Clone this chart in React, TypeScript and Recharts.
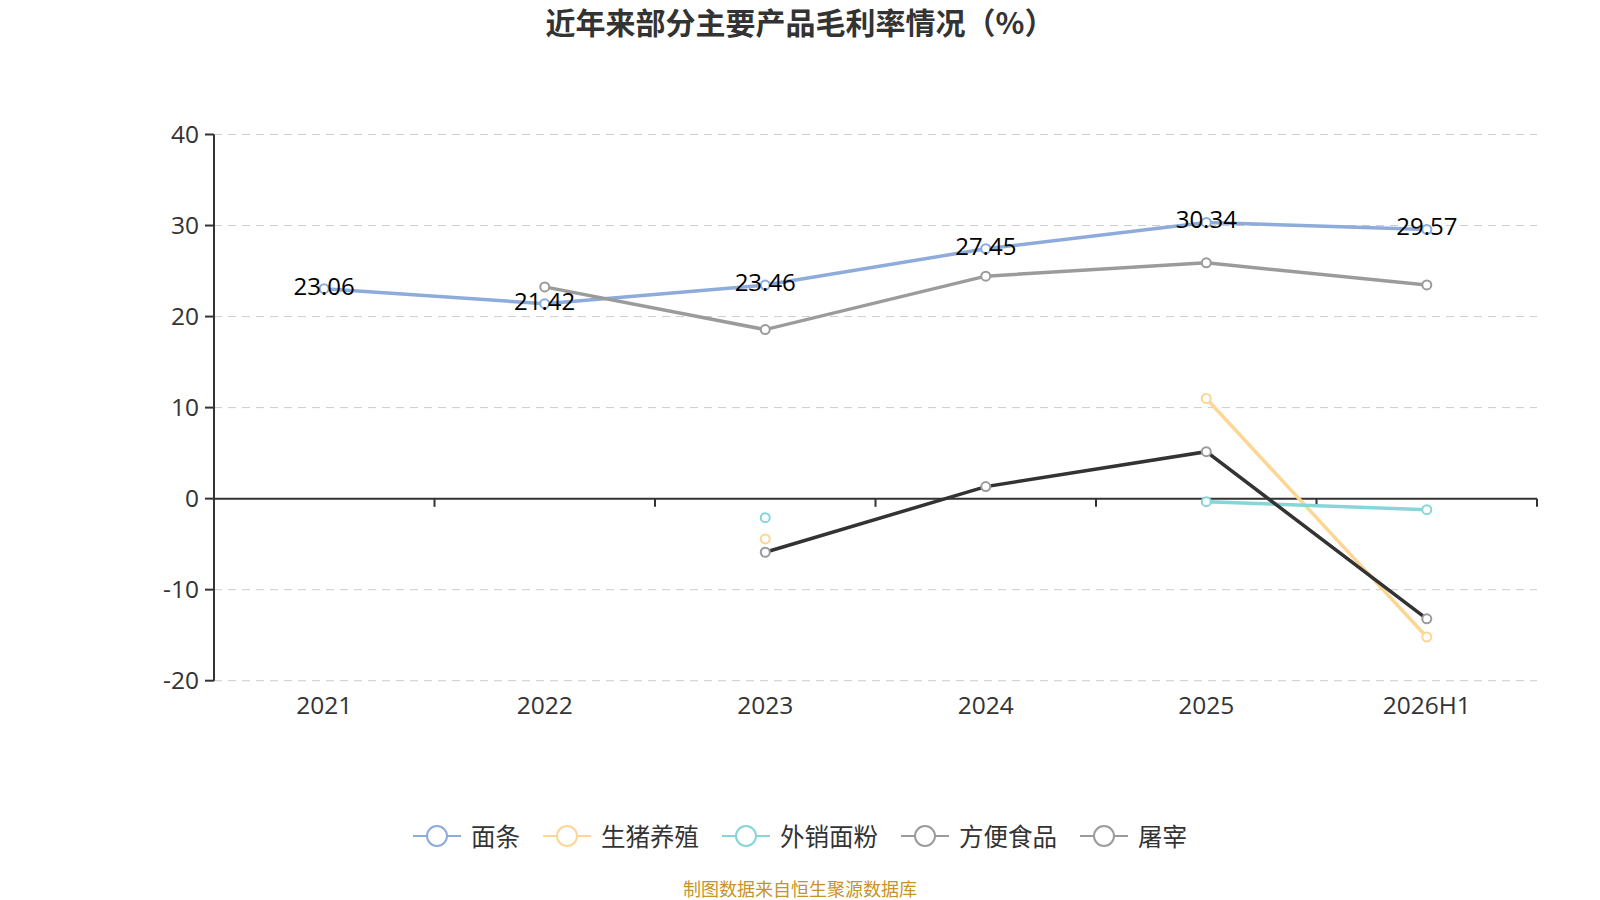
import React from 'react';
import {
  LineChart,
  Line,
  XAxis,
  YAxis,
  CartesianGrid,
  ReferenceLine,
} from 'recharts';

const years = ['2021', '2022', '2023', '2024', '2025', '2026H1'];
const noodles = [23.06, 21.42, 23.46, 27.45, 30.34, 29.57];
const pigFarming = [null, null, -4.43, null, 11.0, -15.2];
const flourSales = [null, null, -2.09, null, -0.33, -1.21];
const instantFood = [null, 23.26, 18.57, 24.44, 25.9, 23.48];
const slaughter = [null, null, -5.89, 1.32, 5.16, -13.2];
const yTicks = [-20, -10, 0, 10, 20, 30, 40];
const bandEdges = [1, 2, 3, 4, 5, 6];

const CJK = '"Noto Sans CJK SC", "Noto Sans", sans-serif';
const NUM = '"Open Sans", "Noto Sans CJK SC", sans-serif';

const series = [
  { key: 'noodles', name: '面条', color: '#8dabdb', line: '#8dabdb' },
  { key: 'pig', name: '生猪养殖', color: '#fdd696', line: '#fdd696' },
  { key: 'flour', name: '外销面粉', color: '#86d5d8', line: '#86d5d8' },
  { key: 'instant', name: '方便食品', color: '#9b9b9b', line: '#9b9b9b' },
  { key: 'slaughter', name: '屠宰', color: '#9b9b9b', line: '#333333' },
];

const data = years.map((year, i) => ({
  year,
  noodles: noodles[i],
  pig: pigFarming[i],
  flour: flourSales[i],
  instant: instantFood[i],
  slaughter: slaughter[i],
}));

const dotFor = (color: string) => ({ r: 4.5, fill: '#fff', stroke: color, strokeWidth: 2 });

function ValueLabel(props: any) {
  const { x, y, value } = props;
  if (value == null) return null;
  return (
    <text x={x} y={y + 6} textAnchor="middle" fontSize={24} fill="#000" fontFamily={NUM}>
      {value.toFixed(2)}
    </text>
  );
}

function LegendRow() {
  return (
    <div
      style={{
        position: 'absolute',
        left: 0,
        top: 818,
        width: 1600,
        display: 'flex',
        justifyContent: 'center',
        fontFamily: CJK,
        fontSize: 24.5,
        color: '#333',
      }}
    >
      {series.map((s, i) => (
        <div
          key={s.key}
          style={{ display: 'flex', alignItems: 'center', marginRight: i === series.length - 1 ? 0 : 23 }}
        >
          <svg width={48} height={30} style={{ marginRight: 10 }}>
            <line x1={0} y1={15} x2={48} y2={15} stroke={s.color} strokeWidth={2} />
            <circle cx={24} cy={15} r={10} fill="#fff" stroke={s.color} strokeWidth={2} />
          </svg>
          <span>{s.name}</span>
        </div>
      ))}
    </div>
  );
}

export default function App() {
  return (
    <div style={{ position: 'absolute', left: 0, top: 0, width: 1600, height: 900, background: '#fff' }}>
      <div
        style={{
          position: 'absolute',
          top: -1,
          width: 1600,
          textAlign: 'center',
          fontFamily: CJK,
          fontWeight: 'bold',
          fontSize: 30,
          color: '#333',
        }}
      >
        近年来部分主要产品毛利率情况（%）
      </div>

      <LineChart
        width={1600}
        height={900}
        data={data}
        margin={{ top: 134.5, right: 63, bottom: 179.3, left: 154 }}
      >
        <CartesianGrid vertical={false} stroke="#ccc" strokeDasharray="8 6" />
        <XAxis
          dataKey="year"
          axisLine={false}
          tickLine={false}
          height={40}
          padding={{ left: 110.2, right: 110.2 }}
          interval={0}
          tick={{ fontSize: 24.5, fill: '#333', fontFamily: NUM }}
          tickMargin={10}
        />
        {/* hidden linear axis, used only to place the tick marks on the zero line at band edges */}
        <XAxis
          xAxisId="edges"
          type="number"
          dataKey="edgeSlot"
          domain={[0, 6]}
          allowDataOverflow
          hide
        />
        <YAxis
          domain={[-20, 40]}
          ticks={yTicks}
          width={60}
          interval={0}
          axisLine={{ stroke: '#333', strokeWidth: 2 }}
          tickLine={{ stroke: '#333', strokeWidth: 2 }}
          tickSize={9}
          tickMargin={6}
          tick={{ fontSize: 24.5, fill: '#333', fontFamily: NUM }}
        />
        <ReferenceLine y={0} stroke="#333" strokeWidth={2} />
        {bandEdges.map((e) => (
          <ReferenceLine
            key={e}
            xAxisId="edges"
            segment={[
              { x: e, y: 0 },
              { x: e, y: -0.9 },
            ]}
            stroke="#333"
            strokeWidth={2}
            ifOverflow="visible"
          />
        ))}
        {series.map((s) => (
          <Line
            key={s.key}
            dataKey={s.key}
            name={s.name}
            stroke={s.line}
            strokeWidth={3.5}
            dot={dotFor(s.color)}
            activeDot={false}
            connectNulls={false}
            isAnimationActive={false}
            label={s.key === 'noodles' ? <ValueLabel /> : undefined}
          />
        ))}
      </LineChart>

      <LegendRow />

      <div
        style={{
          position: 'absolute',
          top: 875,
          width: 1600,
          textAlign: 'center',
          fontFamily: CJK,
          fontSize: 18,
          color: '#c8922a',
        }}
      >
        制图数据来自恒生聚源数据库
      </div>
    </div>
  );
}
